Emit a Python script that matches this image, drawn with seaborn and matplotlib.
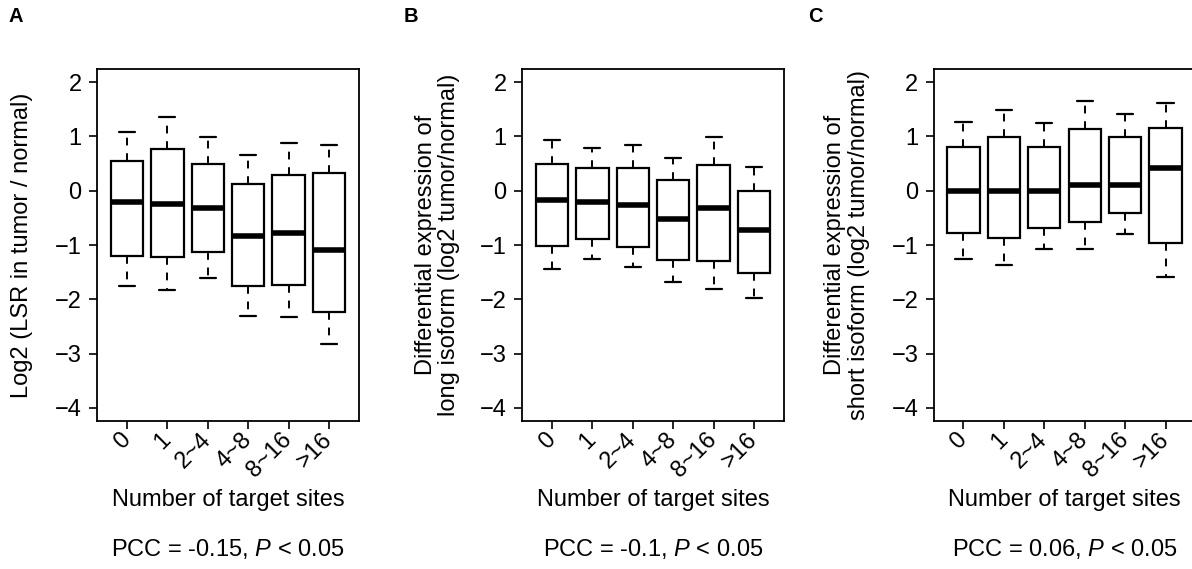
import numpy as np
import pandas as pd
import matplotlib
matplotlib.use("Agg")
import matplotlib.pyplot as plt
import seaborn as sns

# Categories on the x axis
SITES = ["0", "1", "2~4", "4~8", "8~16", ">16"]

# Five-number summaries (whisker low, Q1, median, Q3, whisker high)
# Panel A: LSR
A_LOW = [-1.75, -1.82, -1.61, -2.31, -2.33, -2.82]
A_Q1 = [-1.21, -1.23, -1.13, -1.76, -1.73, -2.23]
A_MED = [-0.21, -0.25, -0.31, -0.83, -0.77, -1.10]
A_Q3 = [0.55, 0.77, 0.50, 0.13, 0.29, 0.33]
A_HIGH = [1.08, 1.35, 0.98, 0.66, 0.88, 0.85]

# Panel B: long isoform
B_LOW = [-1.44, -1.26, -1.41, -1.69, -1.81, -1.97]
B_Q1 = [-1.01, -0.89, -1.04, -1.28, -1.29, -1.51]
B_MED = [-0.17, -0.21, -0.27, -0.53, -0.31, -0.73]
B_Q3 = [0.49, 0.41, 0.41, 0.19, 0.48, 0.00]
B_HIGH = [0.93, 0.79, 0.85, 0.61, 0.99, 0.43]

# Panel C: short isoform
C_LOW = [-1.25, -1.37, -1.07, -1.08, -0.79, -1.58]
C_Q1 = [-0.77, -0.88, -0.69, -0.57, -0.42, -0.97]
C_MED = [0.00, 0.00, 0.00, 0.11, 0.11, 0.41]
C_Q3 = [0.81, 0.99, 0.80, 1.14, 0.99, 1.16]
C_HIGH = [1.26, 1.49, 1.25, 1.65, 1.41, 1.61]

Y_LABELS = [
    "Log2 (LSR in tumor / normal)",
    "Differential expression of\nlong isoform (log2 tumor/normal)",
    "Differential expression of\nshort isoform (log2 tumor/normal)",
]
PCC_TEXT = [
    r"PCC = -0.15, $\mathit{P}$ < 0.05",
    r"PCC = -0.1, $\mathit{P}$ < 0.05",
    r"PCC = 0.06, $\mathit{P}$ < 0.05",
]
PANEL_LETTERS = ["A", "B", "C"]


def summary_frame(low, q1, med, q3, high):
    """Long table with the five summary values per category."""
    rows = []
    for i, cat in enumerate(SITES):
        for v in (low[i], q1[i], med[i], q3[i], high[i]):
            rows.append({"sites": cat, "value": v})
    return pd.DataFrame(rows)


panels = [
    summary_frame(A_LOW, A_Q1, A_MED, A_Q3, A_HIGH),
    summary_frame(B_LOW, B_Q1, B_MED, B_Q3, B_HIGH),
    summary_frame(C_LOW, C_Q1, C_MED, C_Q3, C_HIGH),
]

sns.set_style("ticks")
plt.rcParams["font.family"] = ["Liberation Sans", "DejaVu Sans"]
plt.rcParams["mathtext.fontset"] = "custom"
plt.rcParams["mathtext.rm"] = "Liberation Sans"
plt.rcParams["mathtext.it"] = "Liberation Sans:italic"
for key in ["text.color", "axes.labelcolor", "xtick.color", "ytick.color", "axes.edgecolor"]:
    plt.rcParams[key] = "black"

W, H = 1192, 569
fig = plt.figure(figsize=(W / 100, H / 100), dpi=100)

# axes placement in pixels: left edge, top, width, height
ax_left = [97, 522, 933.5]
ax_top, ax_w, ax_h = 69, 262, 352
ylabel_x = [-0.244, -0.235, -0.243]
letter_x = [16, 411, 815]
FS = 17

for k, df in enumerate(panels):
    ax = fig.add_axes([ax_left[k] / W, (H - ax_top - ax_h) / H, ax_w / W, ax_h / H])
    sns.boxplot(
        data=df, x="sites", y="value", order=SITES, ax=ax,
        color="white", linecolor="black", linewidth=1.6, width=0.8,
        whis=(0, 100), showfliers=False,
        medianprops=dict(linewidth=4.0, color="black", solid_capstyle="butt"),
        whiskerprops=dict(linestyle=(0, (4, 4)), linewidth=1.4),
        capprops=dict(linewidth=1.6),
    )
    ax.set_xlim(-0.74, 5.74)
    ax.set_ylim(-4.24, 2.24)
    ax.set_yticks([-4, -3, -2, -1, 0, 1, 2])
    for s in ax.spines.values():
        s.set_visible(True)
        s.set_linewidth(1.3)
    ax.tick_params(axis="both", length=6, width=1.2, labelsize=FS)
    ax.tick_params(axis="y", pad=5)
    ax.tick_params(axis="x", pad=5)
    ax.set_xticks(range(len(SITES)))
    ax.set_xticklabels(SITES, rotation=45, ha="right", va="center", rotation_mode="anchor")
    ax.set_xlabel("")
    ax.set_ylabel(Y_LABELS[k], fontsize=FS, linespacing=1.1)
    ax.yaxis.set_label_coords(ylabel_x[k], 0.5)
    ax.text(0.5, (421 - 500) / ax_h, "Number of target sites", transform=ax.transAxes,
            ha="center", va="center", fontsize=FS)
    ax.text(0.5, (421 - 549) / ax_h, PCC_TEXT[k], transform=ax.transAxes,
            ha="center", va="center", fontsize=FS)
    fig.text(letter_x[k] / W, 1 - 16 / H, PANEL_LETTERS[k], fontsize=14.5,
             fontweight="bold", ha="center", va="center")

fig.savefig("out.png", dpi=100)
